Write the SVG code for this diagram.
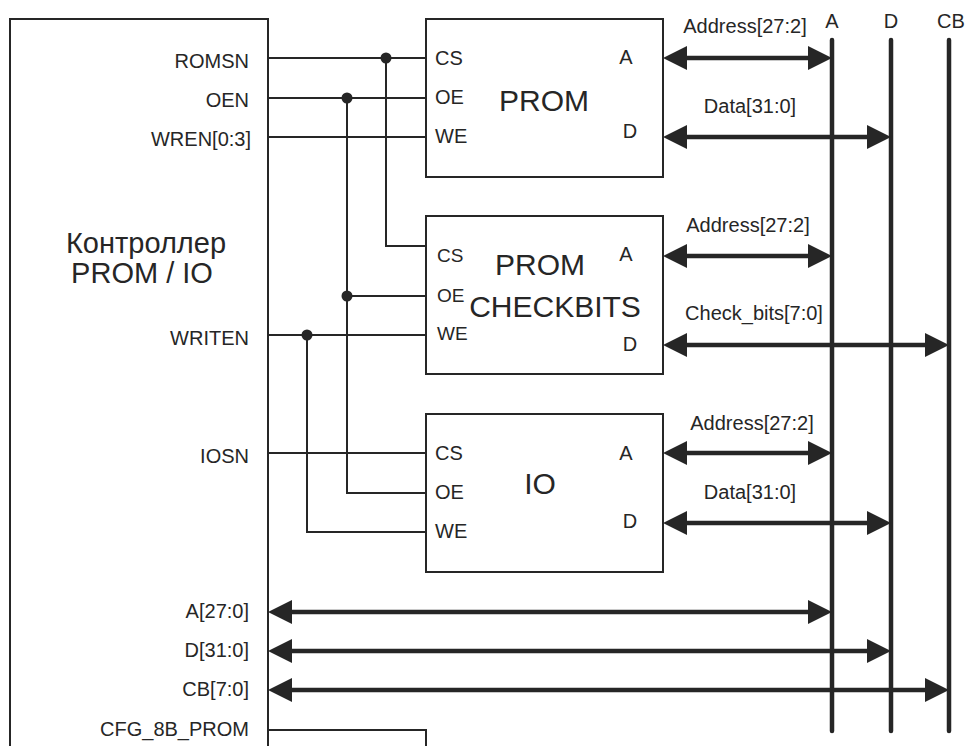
<svg xmlns="http://www.w3.org/2000/svg" width="966" height="746" viewBox="0 0 966 746">
<style>
  text { font-family: "Liberation Sans", Arial, sans-serif; fill: #262626; }
  .lbl { font-size: 20px; }
  .sm { font-size: 19px; }
  .big { font-size: 30px; }
  .title { font-size: 29px; }
  .end { text-anchor: end; }
  .mid { text-anchor: middle; }
  .box { fill: #ffffff; stroke: #262626; stroke-width: 2; }
  .wire { fill: none; stroke: #262626; stroke-width: 2; }
  .bus { fill: none; stroke: #262626; stroke-width: 4.5; marker-start: url(#ah); marker-end: url(#ah); }
  .rail { fill: none; stroke: #262626; stroke-width: 4.5; stroke-linecap: round; }
  .dot { fill: #262626; }
</style>
<defs>
  <marker id="ah" viewBox="0 0 24 24" refX="18" refY="12" markerWidth="24" markerHeight="24" markerUnits="userSpaceOnUse" orient="auto-start-reverse">
    <path d="M0,0 L24,12 L0,24 Z" fill="#262626"/>
  </marker>
</defs>
<rect width="966" height="746" fill="#ffffff"/>

<g id="controller">
  <path class="box" d="M10,760 L10,19 L268,19 L268,760"/>
  <text class="title mid" x="146" y="253">Контроллер</text>
  <text class="title mid" x="142" y="283">PROM / IO</text>
  <text class="lbl end" x="249" y="68">ROMSN</text>
  <text class="lbl end" x="249" y="107">OEN</text>
  <text class="lbl end" x="251" y="146">WREN[0:3]</text>
  <text class="lbl end" x="249" y="345">WRITEN</text>
  <text class="lbl end" x="249" y="463">IOSN</text>
  <text class="lbl end" x="249" y="618">A[27:0]</text>
  <text class="lbl end" x="249" y="657">D[31:0]</text>
  <text class="lbl end" x="249" y="696">CB[7:0]</text>
  <text class="lbl end" x="249" y="736">CFG_8B_PROM</text>
</g>

<g id="connectors">
  <path class="wire" d="M268,58 H426"/>
  <path class="wire" d="M268,98 H426"/>
  <path class="wire" d="M268,137 H426"/>
  <path class="wire" d="M386,58 V246 H426"/>
  <path class="wire" d="M347,98 V493 H426"/>
  <path class="wire" d="M347,296 H426"/>
  <path class="wire" d="M268,335 H426"/>
  <path class="wire" d="M307,335 V532 H426"/>
  <path class="wire" d="M268,453 H426"/>
  <path class="wire" d="M268,730 H426 V760"/>
  <circle class="dot" cx="386" cy="58" r="5.5"/>
  <circle class="dot" cx="347" cy="98" r="5.5"/>
  <circle class="dot" cx="347" cy="296" r="5.5"/>
  <circle class="dot" cx="307" cy="335" r="5.5"/>
  <path class="rail" d="M832,40 V731"/>
  <path class="rail" d="M891,40 V731"/>
  <path class="rail" d="M949,40 V731"/>
  <path class="bus" d="M669,58 H826"/>
  <path class="bus" d="M669,137 H885"/>
  <path class="bus" d="M669,256 H826"/>
  <path class="bus" d="M669,345 H943"/>
  <path class="bus" d="M669,453 H826"/>
  <path class="bus" d="M669,523 H885"/>
  <path class="bus" d="M274,612 H826"/>
  <path class="bus" d="M274,651 H885"/>
  <path class="bus" d="M274,690 H943"/>
  <text class="lbl mid" x="745" y="33">Address[27:2]</text>
  <text class="lbl mid" x="750" y="113">Data[31:0]</text>
  <text class="lbl mid" x="748" y="232">Address[27:2]</text>
  <text class="lbl mid" x="754" y="320">Check_bits[7:0]</text>
  <text class="lbl mid" x="752" y="430">Address[27:2]</text>
  <text class="lbl mid" x="750" y="499">Data[31:0]</text>
  <text class="lbl mid" x="832" y="28">A</text>
  <text class="lbl mid" x="891" y="28">D</text>
  <text class="lbl mid" x="951" y="28">CB</text>
</g>

<g id="prom">
  <rect class="box" x="426" y="19" width="237" height="158"/>
  <text class="lbl" x="435" y="65">CS</text>
  <text class="lbl" x="435" y="104">OE</text>
  <text class="lbl" x="435" y="143">WE</text>
  <text class="lbl mid" x="626" y="64">A</text>
  <text class="lbl mid" x="630" y="138">D</text>
  <text class="big mid" x="544" y="111">PROM</text>
</g>

<g id="prom-checkbits">
  <rect class="box" x="426" y="216" width="237" height="158"/>
  <text class="sm" x="437" y="262">CS</text>
  <text class="sm" x="437" y="302">OE</text>
  <text class="sm" x="437" y="340">WE</text>
  <text class="lbl mid" x="626" y="261">A</text>
  <text class="lbl mid" x="630" y="351">D</text>
  <text class="big mid" x="540" y="275">PROM</text>
  <text class="big mid" x="555" y="317">CHECKBITS</text>
</g>

<g id="io">
  <rect class="box" x="426" y="414" width="237" height="158"/>
  <text class="lbl" x="435" y="460">CS</text>
  <text class="lbl" x="435" y="499">OE</text>
  <text class="lbl" x="435" y="538">WE</text>
  <text class="lbl mid" x="626" y="460">A</text>
  <text class="lbl mid" x="630" y="528">D</text>
  <text class="big mid" x="540" y="494">IO</text>
</g>
</svg>
